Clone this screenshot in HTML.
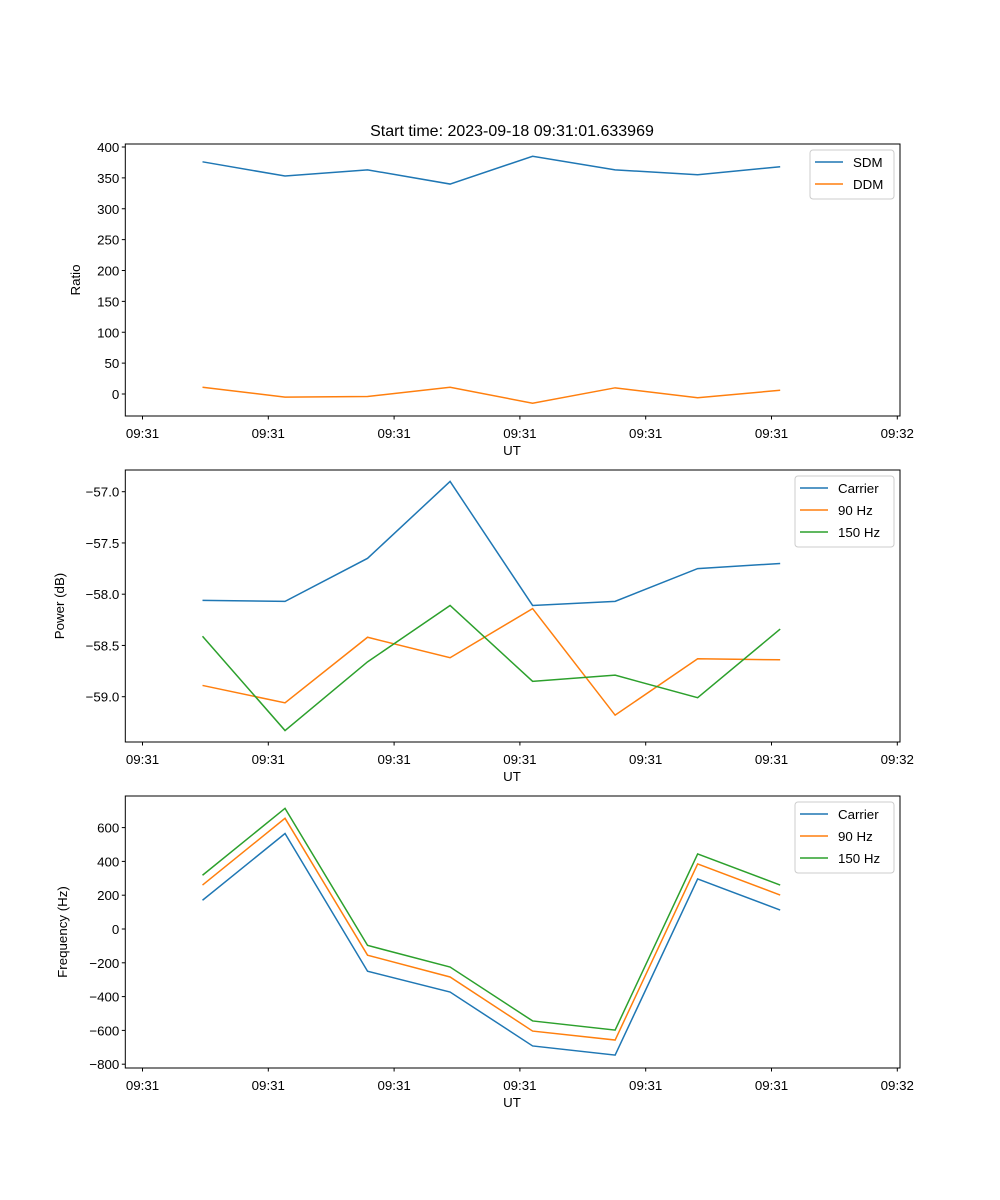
<!DOCTYPE html>
<html><head><meta charset="utf-8"><style>
body{margin:0;background:#fff;}
svg{display:block;font-family:"Liberation Sans","DejaVu Sans",sans-serif;}
</style></head><body>
<svg id="fig" width="1000" height="1200" xmlns="http://www.w3.org/2000/svg"></svg>
<script>
const times = [0.477,1.133,1.789,2.445,3.101,3.757,4.413,5.069];
const xTickLabels = ["09:31","09:31","09:31","09:31","09:31","09:31","09:32"];
const sdm = [376,353,363,340,385,363,355,368];
const ddm = [11,-5,-4,11,-15,10,-6,6];
const powCarrier = [-58.06,-58.07,-57.65,-56.90,-58.11,-58.07,-57.75,-57.70];
const pow90 = [-58.89,-59.06,-58.42,-58.62,-58.14,-59.18,-58.63,-58.64];
const pow150 = [-58.41,-59.33,-58.66,-58.11,-58.85,-58.79,-59.01,-58.34];
const freqCarrier = [170,565,-250,-373,-692,-746,296,112];
const freq90 = [260,655,-155,-284,-604,-657,385,201];
const freq150 = [318,714,-97,-225,-544,-598,444,260];
const ratioTicks = [0,50,100,150,200,250,300,350,400];
const powTicks = [-59.0,-58.5,-58.0,-57.5,-57.0];
const freqTicks = [-800,-600,-400,-200,0,200,400,600];

const NS="http://www.w3.org/2000/svg";
const svg=document.getElementById('fig');
function mk(tag,attrs,parent){const e=document.createElementNS(NS,tag);for(const k in attrs)e.setAttribute(k,attrs[k]);(parent||svg).appendChild(e);return e;}
const L=125.3,R=900;
function xs(u){return 142.5+u*125.8;}
const C={blue:'#1f77b4',orange:'#ff7f0e',green:'#2ca02c'};

function panel(name,top,bot,ys,ticks,fmt,ylabel,series,legend){
  const g=mk('g',{});
  
  
  series.forEach(s=>{
    const p=mk('polyline',{points:s.v.map((v,i)=>xs(times[i])+','+ys(v)).join(' '),fill:'none',stroke:s.c,'stroke-width':1.5},g);
    
    
  });
  const fr=mk('rect',{x:L,y:top,width:R-L,height:bot-top,fill:'none',stroke:'#000','stroke-width':1},g);
  
  
  xTickLabels.forEach((t,i)=>{
    const x=xs(i);
    mk('line',{x1:x,x2:x,y1:bot,y2:bot+3.5,stroke:'#000'},g);
    const tx=mk('text',{x:x,y:bot+22,'text-anchor':'middle','font-size':13.3},g);
    tx.textContent=t;
    
    
  });
  ticks.forEach(v=>{
    const y=ys(v);
    mk('line',{x1:L-3.5,x2:L,y1:y,y2:y,stroke:'#000'},g);
    const tx=mk('text',{x:L-6,y:y+5,'text-anchor':'end','font-size':13.3},g);
    tx.textContent=fmt(v);
    
    
  });
  const xl=mk('text',{x:512,y:bot+39,'text-anchor':'middle','font-size':13.3},g);
  xl.textContent='UT';
  
  
  const cy=(top+bot)/2;
  const yl=mk('text',{x:ylabel.x,y:cy,'text-anchor':'middle','font-size':13.3,transform:`rotate(-90 ${ylabel.x} ${cy})`},g);
  yl.textContent=ylabel.t;
  
  
  const lg=mk('g',{},g);
  
  
  mk('rect',{x:legend.x,y:top+6,width:R-6-legend.x,height:series.length*22+5,fill:'#fff',stroke:'#ccc',rx:3},lg);
  series.forEach((s,i)=>{
    const y=top+18+i*22;
    mk('line',{x1:legend.x+5,x2:legend.x+33,y1:y,y2:y,stroke:s.c,'stroke-width':1.5},lg);
    const t=mk('text',{x:legend.x+43,y:y+5,'font-size':13.3},lg);
    t.textContent=s.label;
    
    
  });
}
const minus=s=>String(s).replace('-','\u2212');
const title=mk('text',{x:512,y:136,'text-anchor':'middle','font-size':16});
title.textContent='Start time: 2023-09-18 09:31:01.633969';



panel('ratio-panel',144,416,v=>394-v*0.6175,ratioTicks,v=>minus(v),{x:80,t:'Ratio'},
 [{v:sdm,c:C.blue,n:'line-sdm',label:'SDM'},{v:ddm,c:C.orange,n:'line-ddm',label:'DDM'}],{x:810});
panel('power-panel',470,742,v=>491.7-(v+57)*102.5,powTicks,v=>minus(v.toFixed(1)),{x:64,t:'Power (dB)'},
 [{v:powCarrier,c:C.blue,n:'line-power-carrier',label:'Carrier'},{v:pow90,c:C.orange,n:'line-power-90hz',label:'90 Hz'},{v:pow150,c:C.green,n:'line-power-150hz',label:'150 Hz'}],{x:795});
panel('frequency-panel',796,1068,v=>929-v*0.169,freqTicks,v=>minus(v),{x:67,t:'Frequency (Hz)'},
 [{v:freqCarrier,c:C.blue,n:'line-freq-carrier',label:'Carrier'},{v:freq90,c:C.orange,n:'line-freq-90hz',label:'90 Hz'},{v:freq150,c:C.green,n:'line-freq-150hz',label:'150 Hz'}],{x:795});
</script>
</body></html>
